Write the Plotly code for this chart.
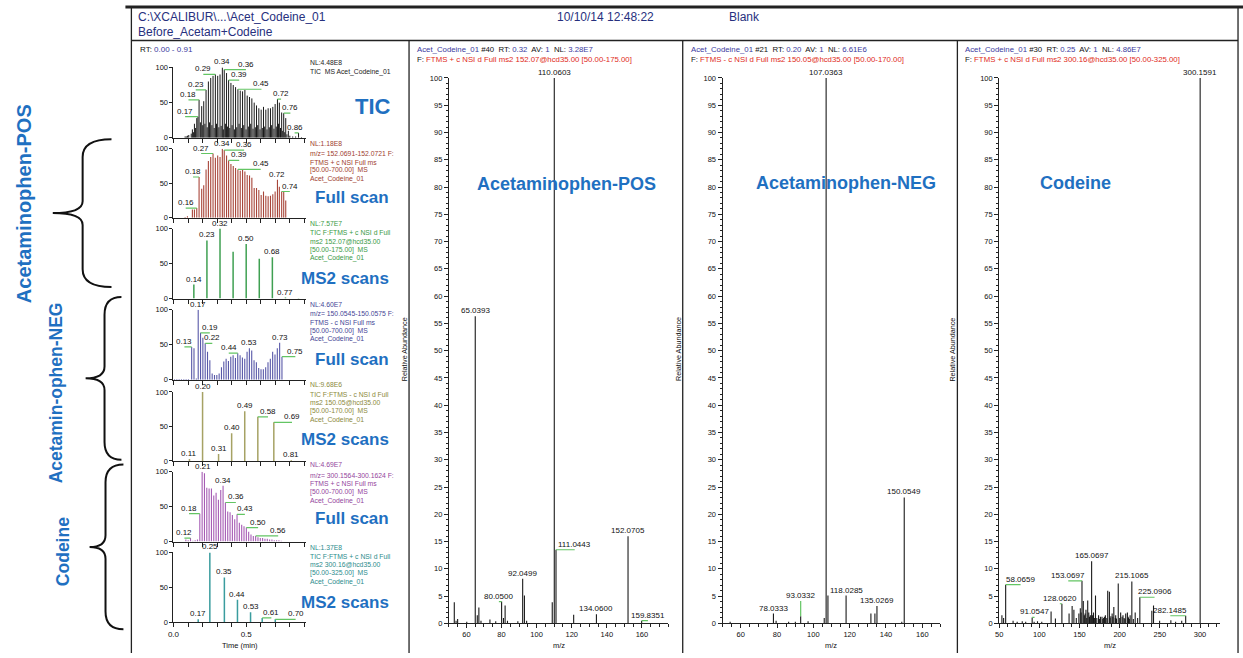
import plotly.graph_objects as go

W, H = 1243, 658

# ---------------- chromatogram data: retention time (min) / relative abundance (%) ----------------
tic_full_t = [0.080, 0.096, 0.130, 0.144, 0.160, 0.176, 0.194, 0.208, 0.224, 0.240, 0.256, 0.272, 0.288, 0.304, 0.320,
              0.336, 0.349, 0.365, 0.379, 0.395, 0.411, 0.427, 0.443, 0.459, 0.475, 0.491, 0.507, 0.523, 0.539, 0.555,
              0.571, 0.587, 0.603, 0.619, 0.635, 0.651, 0.667, 0.683, 0.699, 0.715, 0.728, 0.744, 0.758, 0.772, 0.790, 0.860]
tic_full_h = [2, 3, 12, 20, 28, 54, 45, 52, 68, 80, 85, 88, 90, 88, 90,
              100, 97, 92, 82, 78, 75, 72, 69, 67, 66, 68, 60, 58, 56, 50,
              46, 42, 40, 44, 40, 42, 42, 44, 48, 55, 50, 36, 35, 28, 10, 7]
tic_ms2_t = [0.088, 0.105, 0.122, 0.137, 0.152, 0.168, 0.185, 0.201, 0.216, 0.232, 0.248, 0.264, 0.280, 0.296, 0.312,
             0.328, 0.343, 0.357, 0.372, 0.387, 0.403, 0.419, 0.435, 0.451, 0.467, 0.483, 0.499, 0.515, 0.531, 0.547,
             0.563, 0.579, 0.595, 0.611, 0.627, 0.643, 0.659, 0.675, 0.691, 0.707, 0.722, 0.736, 0.751, 0.765, 0.780,
             0.800, 0.820, 0.840, 0.880]
tic_ms2_h = [2, 4, 6, 8, 14, 30, 22, 18, 20, 15, 22, 18, 14, 20, 15,
             17, 12, 20, 16, 14, 18, 12, 15, 20, 14, 18, 12, 16, 20, 13,
             15, 18, 12, 14, 16, 12, 15, 18, 13, 16, 20, 14, 10, 8, 5,
             3, 2, 2, 1]

pos_full_t = [0.080, 0.096, 0.130, 0.144, 0.160, 0.176, 0.194, 0.208, 0.224, 0.240, 0.256, 0.272, 0.288, 0.304, 0.320,
              0.336, 0.349, 0.365, 0.379, 0.395, 0.411, 0.427, 0.443, 0.459, 0.475, 0.491, 0.507, 0.523, 0.539, 0.555,
              0.571, 0.587, 0.603, 0.619, 0.635, 0.651, 0.667, 0.683, 0.699, 0.715, 0.728, 0.744, 0.758, 0.772]
pos_full_h = [1, 2, 12, 12, 14, 59, 42, 47, 70, 82, 88, 93, 87, 90, 88,
              100, 98, 90, 83, 78, 75, 72, 70, 68, 70, 67, 62, 61, 58, 43,
              43, 40, 33, 38, 32, 31, 32, 34, 38, 55, 45, 38, 38, 25]

pos_ms2_t = [0.14, 0.23, 0.32, 0.41, 0.50, 0.59, 0.68, 0.77, 0.86]
pos_ms2_h = [20, 83, 100, 67, 78, 57, 59, 1.5, 1]

neg_full_t = [0.007, 0.023, 0.039, 0.055, 0.071, 0.087, 0.103, 0.125, 0.141, 0.157, 0.170, 0.186, 0.202, 0.218, 0.234,
              0.250, 0.266, 0.282, 0.298, 0.314, 0.330, 0.346, 0.362, 0.378, 0.394, 0.410, 0.426, 0.442, 0.458, 0.474,
              0.490, 0.506, 0.522, 0.538, 0.554, 0.570, 0.586, 0.602, 0.618, 0.634, 0.650, 0.666, 0.682, 0.698, 0.714,
              0.730, 0.746]
neg_full_h = [1, 1, 1, 1, 1, 1, 1, 47, 45, 2, 100, 67, 60, 52, 40,
              28, 9, 7, 7, 9, 18, 26, 30, 27, 33, 35, 31, 38, 35, 32,
              30, 40, 45, 42, 28, 25, 17, 15, 15, 18, 25, 30, 40, 36, 45,
              53, 33]

neg_ms2_t = [0.11, 0.20, 0.31, 0.40, 0.49, 0.58, 0.69, 0.81]
neg_ms2_h = [3, 100, 10, 40, 72, 64, 56, 1]

cod_full_t = [0.085, 0.101, 0.117, 0.133, 0.149, 0.165, 0.181, 0.197, 0.213, 0.229, 0.245, 0.261, 0.277, 0.293, 0.309,
              0.325, 0.341, 0.357, 0.373, 0.389, 0.405, 0.421, 0.437, 0.453, 0.469, 0.485, 0.501, 0.517, 0.533, 0.549,
              0.565, 0.581, 0.597, 0.613, 0.629, 0.645, 0.661, 0.677, 0.693, 0.709, 0.725, 0.741]
cod_full_h = [3, 2, 5, 1, 2, 3, 40, 100, 98, 77, 76, 76, 66, 70, 60,
              74, 80, 56, 43, 42, 38, 32, 39, 27, 24, 22, 20, 14, 10, 8,
              8, 6, 5, 5, 4, 4, 3, 3, 2, 2, 2, 1]

cod_ms2_t = [0.17, 0.25, 0.35, 0.44, 0.53, 0.61, 0.70]
cod_ms2_h = [4, 100, 64, 32, 14, 6, 4]

# peak labels (text, RT, abundance)
tic_labels = [("0.17", 0.168, 30), ("0.18", 0.176, 54), ("0.23", 0.224, 68), ("0.29", 0.288, 90), ("0.34", 0.336, 100),
              ("0.36", 0.349, 97), ("0.39", 0.379, 82), ("0.45", 0.443, 69), ("0.72", 0.715, 55), ("0.76", 0.758, 35),
              ("0.86", 0.860, 7)]
pos_full_labels = [("0.16", 0.160, 14), ("0.18", 0.176, 59), ("0.27", 0.272, 93), ("0.34", 0.336, 100), ("0.36", 0.349, 98),
                   ("0.39", 0.379, 83), ("0.45", 0.443, 70), ("0.72", 0.715, 55), ("0.74", 0.744, 38)]
pos_ms2_labels = [("0.14", 0.14, 20), ("0.23", 0.23, 83), ("0.32", 0.32, 100), ("0.50", 0.50, 78), ("0.68", 0.68, 59),
                  ("0.77", 0.77, 1.5)]
neg_full_labels = [("0.13", 0.125, 47), ("0.17", 0.170, 100), ("0.19", 0.186, 67), ("0.22", 0.218, 52), ("0.44", 0.442, 38),
                   ("0.53", 0.522, 45), ("0.73", 0.730, 53), ("0.75", 0.746, 33)]
neg_ms2_labels = [("0.11", 0.11, 3), ("0.20", 0.20, 100), ("0.31", 0.31, 10), ("0.40", 0.40, 40), ("0.49", 0.49, 72),
                  ("0.58", 0.58, 64), ("0.69", 0.69, 56), ("0.81", 0.81, 1)]
cod_full_labels = [("0.12", 0.117, 5), ("0.18", 0.181, 40), ("0.21", 0.205, 100), ("0.34", 0.341, 80), ("0.36", 0.357, 56),
                   ("0.43", 0.437, 39), ("0.50", 0.501, 20), ("0.56", 0.565, 8)]
cod_ms2_labels = [("0.17", 0.17, 4), ("0.25", 0.25, 100), ("0.35", 0.35, 64), ("0.44", 0.44, 32), ("0.53", 0.53, 14),
                  ("0.61", 0.61, 6), ("0.70", 0.70, 4)]

# label placement (x of label, y of label); None = at the peak itself
tic_label_at = [(0.08, None), (0.103, None), (0.153, None), (0.205, None), None, (0.498, None), (0.452, None),
                (0.605, None), (0.74, None), (0.804, None), (0.833, None)]
pos_full_label_at = [(0.084, None), (0.134, None), (0.19, None), None, (0.486, None), (0.452, None), (0.6, None), None,
                     (0.8, None)]
pos_ms2_label_at = [None] * 6
neg_full_label_at = [(0.075, None), None, (0.25, None), (0.267, None), (0.38, None), None, None, (0.838, None)]
neg_ms2_label_at = [None, None, None, None, None, (0.65, None), (0.815, None), None]
cod_full_label_at = [(0.075, None), (0.107, None), None, None, (0.429, None), (0.491, None), (0.582, None), (0.72, None)]
cod_ms2_label_at = [None, None, None, None, None, (0.673, None), (0.84, None)]

# description texts beside each chromatogram
tic_desc = ["NL:4.48E8", "TIC  MS Acet_Codeine_01"]
pos_full_desc = ["NL:1.18E8", "m/z= 152.0691-152.0721 F:", "FTMS + c NSI Full ms", "[50.00-700.00]  MS", "Acet_Codeine_01"]
pos_ms2_desc = ["NL:7.57E7", "TIC F:FTMS + c NSI d Full", "ms2 152.07@hcd35.00", "[50.00-175.00]  MS", "Acet_Codeine_01"]
neg_full_desc = ["NL:4.60E7", "m/z= 150.0545-150.0575 F:", "FTMS - c NSI Full ms", "[50.00-700.00]  MS", "Acet_Codeine_01"]
neg_ms2_desc = ["NL:9.68E6", "TIC F:FTMS - c NSI d Full", "ms2 150.05@hcd35.00", "[50.00-170.00]  MS", "Acet_Codeine_01"]
cod_full_desc = ["NL:4.69E7", "m/z= 300.1564-300.1624 F:", "FTMS + c NSI Full ms", "[50.00-700.00]  MS", "Acet_Codeine_01"]
cod_ms2_desc = ["NL:1.37E8", "TIC F:FTMS + c NSI d Full", "ms2 300.16@hcd35.00", "[50.00-325.00]  MS", "Acet_Codeine_01"]
chrom_titles = ["TIC", "Full scan", "MS2 scans", "Full scan", "MS2 scans", "Full scan", "MS2 scans"]

# ---------------- MS2 spectra: m/z / relative abundance (%) ----------------
pos_mz = [53.1, 54.1, 55.0, 60.2, 65.04, 66.2, 67.1, 68.3, 73.4, 76.7, 80.05, 81.1, 82.05, 83.4, 89.3,
          92.05, 93.05, 94.3, 108.9, 110.06, 111.04, 121.1, 134.06, 152.07, 159.84]
pos_int = [3.9, 0.5, 0.8, 0.3, 56.3, 1.5, 2.9, 0.5, 0.7, 0.4, 4.0, 1.0, 3.3, 0.5, 0.4,
           8.2, 5.1, 0.5, 3.9, 100, 13.5, 1.6, 1.7, 16.0, 0.5]
neg_mz = [54.2, 78.03, 79.5, 86.4, 90.1, 93.03, 97.1, 106.0, 107.04, 108.04, 118.03, 131.7, 133.9, 135.03, 148.7, 150.05]
neg_int = [0.3, 1.8, 0.5, 0.3, 0.3, 1.3, 0.4, 1.0, 100, 5.1, 5.1, 1.8, 1.8, 3.2, 0.3, 23.1]
cod_mz = [53.4, 55.5, 58.07, 67.3, 72.4, 78.7, 83.0, 91.05, 93.5, 97.7, 103.0, 114.6, 120.0, 128.06, 137.0,
          140.8, 143.0, 146.0, 149.2, 151.0, 152.0, 153.07, 154.7, 156.0, 157.0, 158.0, 159.0, 160.2, 161.5, 162.5,
          163.5, 165.07, 166.0, 167.4, 168.5, 169.9, 171.5, 173.7, 175.0, 176.0, 178.0, 179.0, 180.0, 181.0, 182.2,
          184.0, 185.1, 187.2, 188.0, 189.0, 190.6, 191.5, 192.7, 194.5, 195.0, 196.0, 198.2, 200.0, 201.2, 203.0,
          204.1, 205.5, 206.5, 207.5, 209.6, 210.5, 211.0, 212.0, 213.0, 215.11, 217.0, 219.3, 222.3, 225.09, 240.0,
          242.1, 249.7, 263.7, 269.6, 277.2, 282.15, 300.16]
cod_int = [1.5, 1.0, 7.1, 0.5, 0.3, 0.4, 0.3, 1.1, 0.3, 0.4, 0.3, 2.2, 0.9, 3.6, 1.8,
           3.2, 2.5, 1.0, 1.8, 2.8, 2.0, 7.8, 4.1, 1.5, 1.8, 2.5, 1.0, 4.2, 2.0, 1.2,
           1.5, 11.4, 1.5, 2.0, 1.0, 5.1, 1.0, 1.5, 0.8, 1.2, 1.2, 0.8, 1.0, 1.2, 1.5,
           1.0, 6.0, 5.8, 1.0, 1.3, 1.8, 1.2, 3.0, 1.0, 1.5, 0.9, 7.3, 1.0, 2.0, 1.2,
           1.5, 1.0, 0.8, 1.8, 2.0, 1.2, 1.0, 0.8, 1.5, 7.7, 0.8, 2.0, 1.0, 4.8, 2.3,
           3.3, 0.5, 0.6, 0.3, 0.5, 1.4, 100]

pos_labels = [("65.0393", 65.04, 56.3), ("80.0500", 80.05, 4.0), ("92.0499", 92.05, 8.2), ("110.0603", 110.06, 100),
              ("111.0443", 111.04, 13.5), ("134.0600", 134.06, 1.7), ("152.0705", 152.07, 16.0), ("159.8351", 159.84, 0.5)]
neg_labels = [("78.0333", 78.03, 1.8), ("93.0332", 93.03, 1.3), ("107.0363", 107.04, 100), ("118.0285", 118.03, 5.1),
              ("135.0269", 135.03, 3.2), ("150.0549", 150.05, 23.1)]
cod_labels = [("58.0659", 58.07, 7.1), ("91.0547", 91.05, 1.1), ("128.0620", 128.06, 3.6), ("153.0697", 153.07, 7.8),
              ("165.0697", 165.07, 11.4), ("215.1065", 215.11, 7.7), ("225.0906", 225.09, 4.8), ("282.1485", 282.15, 1.4),
              ("300.1591", 300.16, 100)]
pos_label_at = [None, (78.5, None), None, None, (121.7, None), None, None, (163.4, None)]
neg_label_at = [None, (None, 4.1), None, None, None, None]
cod_label_at = [(76.6, None), (94.0, None), (125.5, None), (136.0, None), None, None, (243.4, None), (263.0, None), None]

spec_heads = [
    ("#40", "0.32", "3.28E7", "FTMS + c NSI d Full ms2 152.07@hcd35.00 [50.00-175.00]"),
    ("#21", "0.20", "6.61E6", "FTMS - c NSI d Full ms2 150.05@hcd35.00 [50.00-170.00]"),
    ("#30", "0.25", "4.86E7", "FTMS + c NSI d Full ms2 300.16@hcd35.00 [50.00-325.00]"),
]
spec_titles = ["Acetaminophen-POS", "Acetaminophen-NEG", "Codeine"]

# ---------------- styling ----------------
FONT = "Liberation Sans, Arial, sans-serif"
BLUE = "#1f70c1"
NAVY = "#27307e"
GREEN_LEAD = "#63c563"
chrom_colors = ["#1a1a1a", "#a8463a", "#3fa052", "#5858a8", "#a6a264", "#a65cb4", "#3a9c9e"]
chrom_text_colors = ["#222222", "#a0402e", "#3a9a45", "#454595", "#8c8a3c", "#94459c", "#2c8c8c"]
chrom_widths = [1.0, 1.1, 1.5, 1.1, 1.5, 1.1, 1.5]
chrom_y_px = [(135.7, 64.3), (216.7, 146.7), (298.7, 227.7), (381.0, 310.0), (463.3, 393.3), (545.0, 474.3), (626.7, 556.0)]
desc_y_px = [[59, 69], [141, 152, 160.5, 168.5, 177], [223, 232, 240.5, 249, 257.5], [304.5, 314, 323, 331.5, 340],
             [386, 396, 404.5, 413, 421.5], [467, 478, 486.5, 495, 503.5], [551, 560, 568.5, 577, 586]]
title_px = [(369, 104, 22), (348, 196, 17), (341, 278, 17), (348, 360, 17), (341, 442, 17), (348, 522, 17), (341, 607, 17)]
CH_X0, CH_X1 = 168.3, 301.7
spec_x_px = [(445, 665.5), (720, 939), (998, 1220)]
spec_ranges = [[50, 175], [50, 170], [50, 325]]
spec_dtick = [(20, 5), (20, 5), (50, 10)]
SPEC_Y0, SPEC_Y100 = 628, 75
panel_left = [405, 680, 956]


def px(x):
    return x / W


def py(y):
    return 1 - y / H


fig = go.Figure()
annotations = []
shapes = []
layout = {}


def axref(i):
    return ("x" if i == 1 else f"x{i}", "y" if i == 1 else f"y{i}")


def add_sticks(xs, hs, i, color, width):
    X, Y = [], []
    for x, h in zip(xs, hs):
        X += [x, x, None]
        Y += [0, h, None]
    xr, yr = axref(i)
    fig.add_trace(go.Scatter(x=X, y=Y, mode="lines", line=dict(color=color, width=width),
                             xaxis=xr, yaxis=yr, hoverinfo="skip", showlegend=False))


def add_labels(labels, places, i, size):
    xr, yr = axref(i)
    for (txt, pxv, phv), pl in zip(labels, places):
        lx = pxv if (pl is None or pl[0] is None) else pl[0]
        ly = phv if (pl is None or pl[1] is None) else pl[1]
        if (lx, ly) != (pxv, phv):
            fig.add_trace(go.Scatter(x=[pxv, lx], y=[phv, ly], mode="lines",
                                     line=dict(color=GREEN_LEAD, width=1.2), xaxis=xr, yaxis=yr,
                                     hoverinfo="skip", showlegend=False, cliponaxis=False))
        annotations.append(dict(x=lx, y=ly, xref=xr, yref=yr, text=txt, showarrow=False, xanchor="center",
                                yanchor="bottom", yshift=-1, font=dict(family=FONT, size=size, color="#111111")))


def text(x, y, s, size, color, anchor="left", bold=False, angle=0, yanchor="middle"):
    if bold:
        s = f"<b>{s}</b>"
    annotations.append(dict(x=px(x), y=py(y), xref="paper", yref="paper", text=s, showarrow=False,
                            xanchor=anchor, yanchor=yanchor, textangle=angle,
                            font=dict(family=FONT, size=size, color=color)))


# ---------------- chromatograms ----------------
chrom_series = [
    [(tic_full_t, tic_full_h), (tic_ms2_t, tic_ms2_h)],
    [(pos_full_t, pos_full_h)], [(pos_ms2_t, pos_ms2_h)],
    [(neg_full_t, neg_full_h)], [(neg_ms2_t, neg_ms2_h)],
    [(cod_full_t, cod_full_h)], [(cod_ms2_t, cod_ms2_h)],
]
chrom_labels = [(tic_labels, tic_label_at), (pos_full_labels, pos_full_label_at), (pos_ms2_labels, pos_ms2_label_at),
                (neg_full_labels, neg_full_label_at), (neg_ms2_labels, neg_ms2_label_at),
                (cod_full_labels, cod_full_label_at), (cod_ms2_labels, cod_ms2_label_at)]
chrom_desc = [tic_desc, pos_full_desc, pos_ms2_desc, neg_full_desc, neg_ms2_desc, cod_full_desc, cod_ms2_desc]

for k in range(7):
    i = k + 1
    xr, yr = axref(i)
    y0, y1 = chrom_y_px[k]
    last = (k == 6)
    layout["xaxis" if i == 1 else f"xaxis{i}"] = dict(
        domain=[px(CH_X0), px(CH_X1)], range=[0, 0.913], anchor=yr, showline=True, linecolor="#222", linewidth=1,
        showgrid=False, zeroline=False, ticks="outside", ticklen=4, tickcolor="#222",
        tickvals=[0, 0.5], ticktext=["0.0", "0.5"], showticklabels=last,
        minor=dict(dtick=0.1, ticks="outside", ticklen=4, tickcolor="#222", showgrid=False),
        tickfont=dict(family=FONT, size=8, color="#111"))
    layout["yaxis" if i == 1 else f"yaxis{i}"] = dict(
        domain=[py(y0), py(y1)], range=[0, 100], anchor=xr, showline=True, linecolor="#222", linewidth=1,
        showgrid=False, zeroline=False, ticks="outside", ticklen=3, tickcolor="#222", tickvals=[0, 50, 100],
        tickfont=dict(family=FONT, size=7.5, color="#111"))
    for ts, hs in chrom_series[k]:
        add_sticks(ts, hs, i, chrom_colors[k], chrom_widths[k])
    labs, places = chrom_labels[k]
    add_labels(labs, places, i, 8)
    for line, yy in zip(chrom_desc[k], desc_y_px[k]):
        text(303, yy, line, 6.8, chrom_text_colors[k])
    tx, ty, ts = title_px[k]
    text(tx, ty, chrom_titles[k], ts, BLUE, anchor="center", bold=True)

text(133, 46, "RT: <span style='color:#3a3aa0'>0.00 - 0.91</span>", 8, "#111")
text(235, 650, "Time (min)", 7.5, "#111", anchor="center")

# ---------------- spectra ----------------
spec_data = [(pos_mz, pos_int, pos_labels, pos_label_at), (neg_mz, neg_int, neg_labels, neg_label_at),
             (cod_mz, cod_int, cod_labels, cod_label_at)]
for k in range(3):
    i = 8 + k
    xr, yr = axref(i)
    x0, x1 = spec_x_px[k]
    dt, mdt = spec_dtick[k]
    layout[f"xaxis{i}"] = dict(
        domain=[px(x0), px(x1)], range=spec_ranges[k], anchor=yr, showline=True, linecolor="#222", linewidth=1,
        showgrid=False, zeroline=False, ticks="outside", ticklen=4, tickcolor="#222", tick0=0, dtick=dt,
        minor=dict(dtick=mdt, ticks="outside", ticklen=3, tickcolor="#222", showgrid=False),
        tickfont=dict(family=FONT, size=7.5, color="#111"))
    layout[f"yaxis{i}"] = dict(
        domain=[py(SPEC_Y0), py(SPEC_Y100)], range=[0, 100], anchor=xr, showline=True, linecolor="#222", linewidth=1,
        showgrid=False, zeroline=False, ticks="outside", ticklen=4, tickcolor="#222", tick0=0, dtick=5,
        minor=dict(dtick=1, ticks="outside", ticklen=2, tickcolor="#222", showgrid=False),
        tickfont=dict(family=FONT, size=7.5, color="#111"))
    mz, it, labs, places = spec_data[k]
    add_sticks(mz, it, i, "#1a1a1a", 1.1)
    add_labels(labs, places, i, 8)
    scan, rt, nl, filt = spec_heads[k]
    L = panel_left[k]
    text(L + 6, 46.5, f"<span style='color:#3a3aa0'>Acet_Codeine_01</span> {scan}  RT: "
                      f"<span style='color:#3a3aa0'>{rt}</span>  AV: <span style='color:#3a3aa0'>1</span>  NL: "
                      f"<span style='color:#3a3aa0'>{nl}</span>", 7.8, "#111")
    text(L + 6, 56.5, f"F: <span style='color:#e02a20'>{filt}</span>", 7.8, "#111")
    text((x0 + x1) / 2, 650, "m/z", 7.5, "#111", anchor="center")
    text(L - 5, 350, "Relative Abundance", 7.2, "#111", anchor="center", angle=-90)

text(563, 183, spec_titles[0], 18, BLUE, anchor="center", bold=True)
text(844, 181, spec_titles[1], 18, BLUE, anchor="center", bold=True)
text(1075, 181, spec_titles[2], 18, BLUE, anchor="center", bold=True)

# ---------------- header ----------------
text(131, 13, "C:\\XCALIBUR\\...\\Acet_Codeine_01", 12, NAVY)
text(131, 28, "Before_Acetam+Codeine", 12, NAVY)
text(552, 13, "10/10/14 12:48:22", 12, NAVY)
text(724, 13, "Blank", 12, NAVY)

# ---------------- left braces & group labels ----------------
text(18, 202, "Acetaminophen-POS", 20, BLUE, anchor="center", bold=True, angle=-90)
text(50, 394, "Acetamin-ophen-NEG", 17.5, BLUE, anchor="center", bold=True, angle=-90)
text(58, 555, "Codeine", 17.5, BLUE, anchor="center", bold=True, angle=-90)


def brace(xe, xs, xt, ytop, ybot):
    ym = (ytop + ybot) / 2
    r = 18
    pts = [("M", xe, ytop), ("Q", xs, ytop, xs, ytop + r), ("L", xs, ym - 12), ("Q", xs, ym, xt, ym),
           ("Q", xs, ym, xs, ym + 12), ("L", xs, ybot - r), ("Q", xs, ybot, xe, ybot)]
    out = []
    for p in pts:
        cmd = p[0]
        coords = p[1:]
        pairs = [f"{px(coords[j]):.5f},{py(coords[j + 1]):.5f}" for j in range(0, len(coords), 2)]
        out.append(cmd + " " + " ".join(pairs))
    shapes.append(dict(type="path", path=" ".join(out), xref="paper", yref="paper",
                       line=dict(color="#111", width=2)))


brace(106, 77, 47, 137, 287)
brace(116, 99, 80, 297, 462)
brace(118, 100, 84, 467, 634)

# ---------------- frame ----------------
def hline(y, x0, x1, w=1.3):
    shapes.append(dict(type="line", xref="paper", yref="paper", x0=px(x0), x1=px(x1), y0=py(y), y1=py(y),
                       line=dict(color="#222", width=w)))


def vline(x, y0, y1, w=1.3):
    shapes.append(dict(type="line", xref="paper", yref="paper", x0=px(x), x1=px(x), y0=py(y0), y1=py(y1),
                       line=dict(color="#222", width=w)))


hline(3, 120, 1243, 3)
hline(37, 126, 1238)
vline(126, 3, 658)
vline(1238, 3, 658)
for L in panel_left:
    vline(L, 37, 658)

fig.update_layout(**layout)
fig.update_layout(width=W, height=H, margin=dict(l=0, r=0, t=0, b=0), paper_bgcolor="white",
                  plot_bgcolor="white", showlegend=False, hovermode=False,
                  annotations=annotations, shapes=shapes)

fig.write_html("out.html", config={"displayModeBar": False},
               post_script="document.body.style.margin='0px';document.body.style.overflow='hidden';")
